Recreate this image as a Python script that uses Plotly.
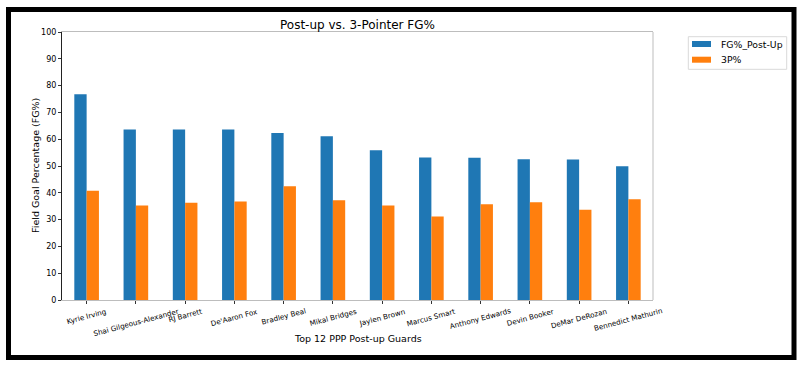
import plotly.graph_objects as go

players = ["Kyrie Irving", "Shai Gilgeous-Alexander", "RJ Barrett", "De'Aaron Fox",
           "Bradley Beal", "Mikal Bridges", "Jaylen Brown", "Marcus Smart",
           "Anthony Edwards", "Devin Booker", "DeMar DeRozan", "Bennedict Mathurin"]
fg_post_up = [76.8, 63.6, 63.6, 63.6, 62.3, 61.1, 55.9, 53.2, 53.1, 52.5, 52.4, 49.9]
three_pct = [40.8, 35.3, 36.3, 36.8, 42.4, 37.2, 35.3, 31.2, 35.7, 36.5, 33.7, 37.6]
y_ticks = [0, 10, 20, 30, 40, 50, 60, 70, 80, 90, 100]

BLUE = "#1f77b4"
ORANGE = "#ff7f0e"
FONT = "DejaVu Sans"

W, H = 805, 365
L, R, T, B = 62, 653, 32, 300


def px2x(px):
    return (px - L) / (R - L)


def py2y(py):
    return (B - py) / (B - T)


fig = go.Figure()
fig.add_trace(go.Bar(x=players, y=fg_post_up, name="FG%_Post-Up", marker_color=BLUE,
                     marker_line_width=0, showlegend=False))
fig.add_trace(go.Bar(x=players, y=three_pct, name="3P%", marker_color=ORANGE,
                     marker_line_width=0, showlegend=False))

shapes = []
# right spine (light gray)
shapes.append(dict(type="line", xref="paper", yref="paper", x0=1, x1=1, y0=0, y1=1,
                   line=dict(color="#bdbdbd", width=1)))
# outer black border
shapes.append(dict(type="rect", xref="paper", yref="paper",
                   x0=px2x(8.5), x1=px2x(794), y0=py2y(357.5), y1=py2y(9.5),
                   line=dict(color="black", width=5)))
# legend frame
shapes.append(dict(type="rect", xref="paper", yref="paper",
                   x0=px2x(688.3), x1=px2x(786.7), y0=py2y(69.3), y1=py2y(36.7),
                   line=dict(color="#d9d9d9", width=1), fillcolor="white"))
# legend patches
shapes.append(dict(type="rect", xref="paper", yref="paper",
                   x0=px2x(692), x1=px2x(711), y0=py2y(47), y1=py2y(41),
                   line=dict(width=0), fillcolor=BLUE))
shapes.append(dict(type="rect", xref="paper", yref="paper",
                   x0=px2x(692), x1=px2x(711), y0=py2y(62.7), y1=py2y(56.7),
                   line=dict(width=0), fillcolor=ORANGE))

annotations = []
for p in players:
    annotations.append(dict(text=p, x=p, xref="x", y=0, yref="paper", yanchor="top",
                            xanchor="center", yshift=-4, textangle=-15, showarrow=False,
                            font=dict(family=FONT, size=7.2, color="black")))
annotations.append(dict(text="Top 12 PPP Post-up Guards", x=px2x(357.5), y=py2y(338),
                        xref="paper", yref="paper", xanchor="center", yanchor="middle",
                        showarrow=False, font=dict(family=FONT, size=9.5, color="black")))
annotations.append(dict(text="Field Goal Percentage (FG%)", x=px2x(35), y=0.5,
                        xref="paper", yref="paper", xanchor="center", yanchor="middle",
                        textangle=-90, showarrow=False,
                        font=dict(family=FONT, size=9.5, color="black")))
annotations.append(dict(text="FG%_Post-Up", x=px2x(719.3), y=py2y(45), xref="paper",
                        yref="paper", xanchor="left", yanchor="middle", showarrow=False,
                        font=dict(family=FONT, size=9.3, color="black")))
annotations.append(dict(text="3P%", x=px2x(719.3), y=py2y(60), xref="paper",
                        yref="paper", xanchor="left", yanchor="middle", showarrow=False,
                        font=dict(family=FONT, size=9.3, color="black")))

fig.update_layout(
    width=W, height=H,
    margin=dict(l=L, r=W - R, t=T, b=H - B, pad=0),
    paper_bgcolor="white", plot_bgcolor="white",
    barmode="group", bargap=0.5, bargroupgap=0,
    title=dict(text="Post-up vs. 3-Pointer FG%", x=px2x(357.5), xref="paper",
               y=1 - 25 / H, yref="container", xanchor="center", yanchor="middle",
               font=dict(family=FONT, size=12, color="black")),
    font=dict(family=FONT, color="black"),
    shapes=shapes,
    annotations=annotations,
    showlegend=False,
)
fig.update_xaxes(range=[-0.5, 11.5], showgrid=False, showline=True, linecolor="#bdbdbd",
                 linewidth=1, mirror=True, ticks="outside", ticklen=3, tickcolor="#333333",
                 showticklabels=False, zeroline=False)
fig.update_yaxes(range=[0, 100], tickvals=y_ticks, showgrid=False, showline=True,
                 linecolor="#222222", linewidth=1, ticks="outside", ticklen=3,
                 tickcolor="#333333", tickfont=dict(family=FONT, size=8, color="black"),
                 zeroline=False)

fig.write_html("out.html")
